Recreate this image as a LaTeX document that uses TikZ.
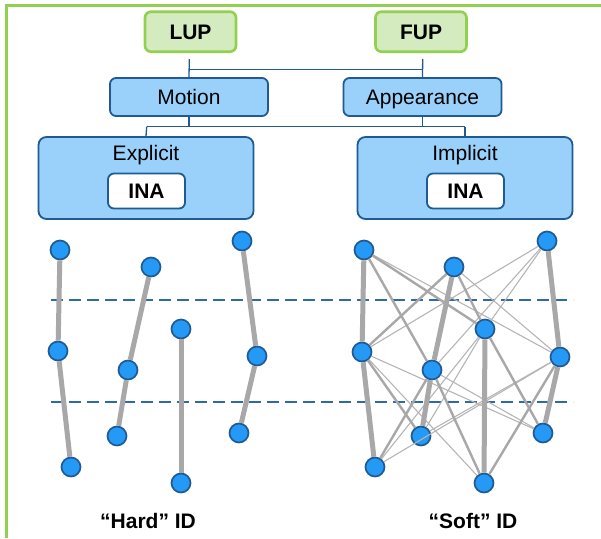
\documentclass[tikz,border=0pt]{standalone}
\usepackage{fontspec}
\setmainfont{Liberation Sans}
\usetikzlibrary{positioning}

\definecolor{framegreen}{HTML}{92D050}
\definecolor{lightgreen}{HTML}{D4EBBF}
\definecolor{darkblue}{HTML}{1F5A92}
\definecolor{lightblue}{HTML}{99D1FB}
\definecolor{dotblue}{HTML}{2499F5}
\definecolor{linkgray}{HTML}{A8A8A8}
\definecolor{dashblue}{HTML}{2E6BA3}

\tikzset{
  label font/.style={font=\fontsize{21}{25}\selectfont, text height=15pt, text depth=0pt},
  greenbox/.style={draw=framegreen, fill=lightgreen, line width=2.6pt, rounded corners=6pt,
    minimum width=91pt, minimum height=40pt, inner sep=0pt, label font, font=\fontsize{21}{25}\selectfont\bfseries},
  bluebox/.style={draw=darkblue, fill=lightblue, line width=1.8pt, rounded corners=6pt,
    minimum width=158pt, minimum height=38pt, inner sep=0pt, label font},
  bigbox/.style={draw=darkblue, fill=lightblue, line width=1.8pt, rounded corners=8pt,
    minimum width=215pt, minimum height=82pt, inner sep=0pt},
  inabox/.style={draw=darkblue, fill=white, line width=1.8pt, rounded corners=6pt,
    minimum width=77pt, minimum height=35pt, inner sep=0pt, label font, font=\fontsize{21}{25}\selectfont\bfseries},
  boxtext/.style={inner sep=0pt, label font},
  idtext/.style={inner sep=0pt, label font, font=\fontsize{21}{25}\selectfont\bfseries},
  vertex/.style={circle, draw=darkblue, fill=dotblue, line width=1.7pt, minimum size=19pt, inner sep=0pt},
  tree/.style={draw=darkblue, line width=1.3pt},
  thick link/.style={draw=linkgray, line width=5pt},
  mid link/.style={draw=linkgray, line width=2.4pt},
  thin link/.style={draw=linkgray!85, line width=1.1pt},
  frame/.style={dashed, draw=dashblue, line width=1.6pt, dash pattern=on 12pt off 6pt}
}

\begin{document}
\begin{tikzpicture}[x=1pt, y=-1pt]
    \useasboundingbox (0,0) rectangle (601,538);
    % panel border
    \draw[framegreen, line width=3pt] (6,538) -- (6,5) -- (601,5);

    % boxes
    \node[greenbox] (lup) at (190.5,31.7) {LUP};
    \node[greenbox] (fup) at (421,31.7) {FUP};
    \node[bluebox] (motion) at (189,97) {Motion};
    \node[bluebox] (appear) at (422.5,97) {Appearance};
    \node[bigbox] (expl) at (146,178) {};
    \node[bigbox] (impl) at (465,178) {};
    \node[boxtext] (expltext) at (146,153) {Explicit};
    \node[boxtext] (impltext) at (465,153) {Implicit};
    \node[inabox] (inaleft) at (146.5,191) {INA};
    \node[inabox] (inaright) at (465.5,191) {INA};

    % tree connectors
    \coordinate (topleft) at (189.3,59);
    \coordinate (topright) at (422.7,59);
    \draw[tree] (topleft) -- (motion.north);
    \draw[tree] (topright) -- (appear.north);
    \draw[tree] (topleft |- 0,69.3) -- (topright |- 0,69.3);
    \coordinate (midleft) at (146.7,126.7);
    \coordinate (midright) at (465,126.7);
    \draw[tree] (motion.south) -- (motion.south |- midleft);
    \draw[tree] (appear.south) -- (appear.south |- midleft);
    \draw[tree] (midleft) -- (midright);
    \draw[tree] (midleft) -- (expl.north);
    \draw[tree] (midright) -- (impl.north);

    % frame separators
    \draw[frame] (51,300) -- (573,300);
    \draw[frame] (51,402) -- (573,402);

    % hard ID tracks
    \node[vertex] (a1) at (60,250) {};
    \node[vertex] (a2) at (58,351) {};
    \node[vertex] (a3) at (71,467) {};
    \node[vertex] (b1) at (151,267) {};
    \node[vertex] (b2) at (128,370) {};
    \node[vertex] (b3) at (117,436) {};
    \node[vertex] (c1) at (181,329) {};
    \node[vertex] (c2) at (181,483) {};
    \node[vertex] (d1) at (242,241) {};
    \node[vertex] (d2) at (257,356) {};
    \node[vertex] (d3) at (239,433) {};
    \draw[thick link] (a1) -- (a2) -- (a3);
    \draw[thick link] (b1) -- (b2) -- (b3);
    \draw[thick link] (c1) -- (c2);
    \draw[thick link] (d1) -- (d2) -- (d3);

    % soft ID graph
    \node[vertex] (e1) at (364,250) {};
    \node[vertex] (e2) at (362,352) {};
    \node[vertex] (e3) at (375,467) {};
    \node[vertex] (f1) at (454,267) {};
    \node[vertex] (f2) at (432,370) {};
    \node[vertex] (f3) at (421,436) {};
    \node[vertex] (g1) at (485,329) {};
    \node[vertex] (g2) at (484,483) {};
    \node[vertex] (h1) at (547,241) {};
    \node[vertex] (h2) at (560,357) {};
    \node[vertex] (h3) at (543,433) {};
    % first to second frame
    \draw[thin link] (e1) -- (h2);
    \draw[thin link] (f1) -- (h2);
    \draw[thin link] (h1) -- (e2);
    \draw[thin link] (h1) -- (f2);
    \draw[thin link] (h1) -- (g1);
    \draw[mid link] (e1) -- (f2);
    \draw[mid link] (e1) -- (g1);
    \draw[mid link] (f1) -- (e2);
    \draw[mid link] (f1) -- (g1);
    % second to third frame
    \draw[thin link] (e2) -- (g2);
    \draw[thin link] (e2) -- (h3);
    \draw[thin link] (f2) -- (h3);
    \draw[thin link] (g1) -- (e3);
    \draw[thin link] (g1) -- (f3);
    \draw[thin link] (h2) -- (e3);
    \draw[thin link] (h2) -- (f3);
    \draw[mid link] (e2) -- (f3);
    \draw[mid link] (f2) -- (e3);
    \draw[mid link] (f2) -- (g2);
    \draw[mid link] (g1) -- (h3);
    \draw[mid link] (h2) -- (g2);
    % strongest links
    \draw[thick link] (e1) -- (e2) -- (e3);
    \draw[thick link] (f1) -- (f2) -- (f3);
    \draw[thick link] (g1) -- (g2);
    \draw[thick link] (h1) -- (h2) -- (h3);

    % captions
    \node[idtext] (hardid) at (148,520.5) {“Hard” ID};
    \node[idtext] (softid) at (473,520.5) {“Soft” ID};
\end{tikzpicture}
\end{document}
